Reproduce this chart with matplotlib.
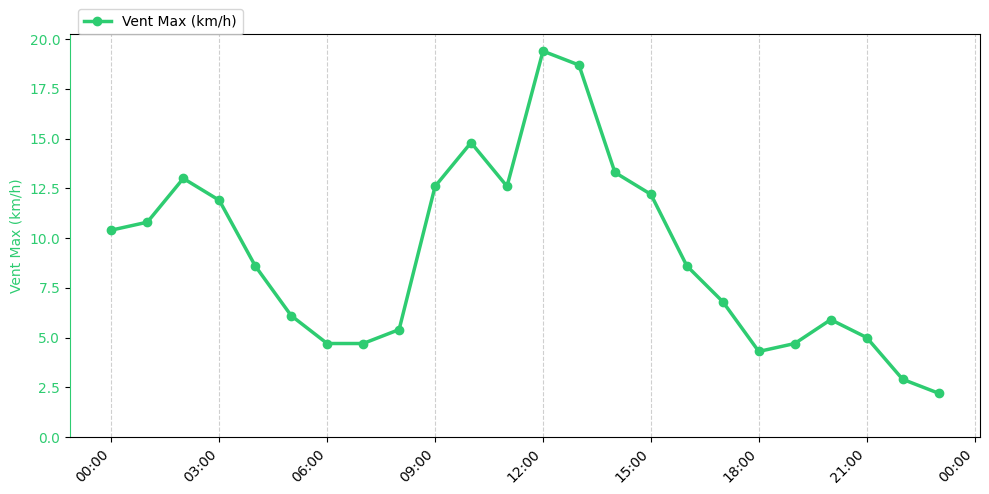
import numpy as np
import pandas as pd
import matplotlib
matplotlib.use('Agg')
import matplotlib.pyplot as plt
import matplotlib.dates as mdates

# Hourly max wind speed over one day
hours = pd.date_range('2024-01-01 00:00', periods=24, freq='h')
vent_max = [10.4, 10.8, 13.0, 11.9, 8.6, 6.1, 4.7, 4.7, 5.4, 12.6, 14.8, 12.6,
            19.4, 18.7, 13.3, 12.2, 8.6, 6.8, 4.3, 4.7, 5.9, 5.0, 2.9, 2.2]

color = '#2ecc71'

fig, ax = plt.subplots(figsize=(9.89, 4.94), dpi=100)
fig.subplots_adjust(left=70/989, right=980/989, top=1 - 34/494, bottom=1 - 437/494)

ax.plot(hours, vent_max, color=color, marker='o', linewidth=2.5, markersize=6,
        label='Vent Max (km/h)')
ax.set_ylim(bottom=0)

ax.set_ylabel('Vent Max (km/h)', color=color)
ax.tick_params(axis='y', labelcolor=color)
ax.spines['left'].set_color(color)

ax.xaxis.set_major_locator(mdates.HourLocator(interval=3))
ax.xaxis.set_major_formatter(mdates.DateFormatter('%H:%M'))
plt.setp(ax.get_xticklabels(), rotation=45, ha='right')
ax.grid(True, axis='x', linestyle='--', alpha=0.6)

fig.legend(loc='upper left', bbox_to_anchor=(78/989, 1 - 9.3/494), borderaxespad=0)

plt.savefig('out.png', dpi=100)
